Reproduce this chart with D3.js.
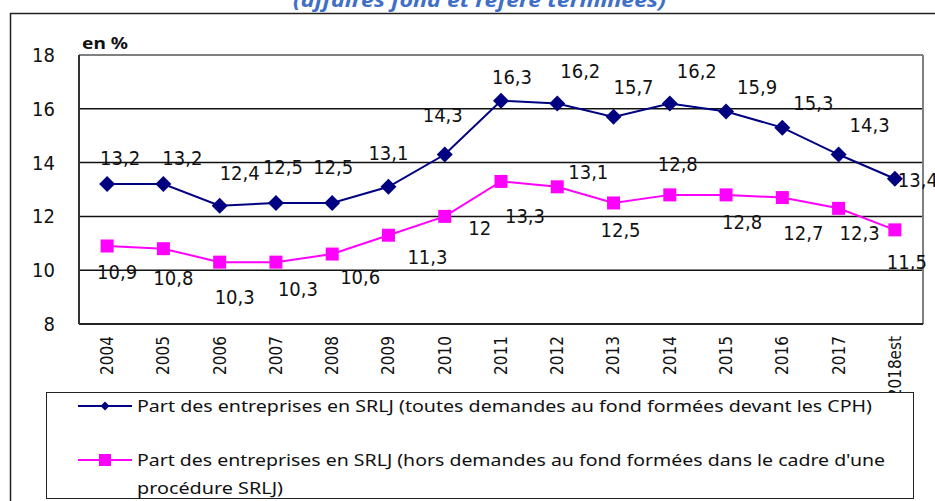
<!DOCTYPE html>
<html>
<head>
<meta charset="utf-8">
<script src="https://cdn.jsdelivr.net/npm/d3@7"></script>
<style>
  body { margin: 0; background: #fff; }
  svg { display: block; }
</style>
</head>
<body>
<div id="chart"></div>
<script>
// years on the x axis
var years = ["2004", "2005", "2006", "2007", "2008", "2009", "2010", "2011",
             "2012", "2013", "2014", "2015", "2016", "2017", "2018est"];

// Part des entreprises en SRLJ, toutes demandes (en %)
var toutes = [13.2, 13.2, 12.4, 12.5, 12.5, 13.1, 14.3, 16.3, 16.2, 15.7, 16.2, 15.9, 15.3, 14.3, 13.4];

// Part des entreprises en SRLJ, hors procédure SRLJ (en %)
var hors = [10.9, 10.8, 10.3, 10.3, 10.6, 11.3, 12, 13.3, 13.1, 12.5, 12.8, 12.8, 12.7, 12.3, 11.5];

var yTicks = [8, 10, 12, 14, 16, 18];

var legendLabels = [
  ["Part des entreprises en SRLJ (toutes demandes au fond formées devant les CPH)"],
  ["Part des entreprises en SRLJ (hors demandes au fond formées dans le cadre d'une", "procédure SRLJ)"]
];

// where excel left each data label, relative to its point
var blueLabelShift = [[13,-26],[19,-26],[20,-33],[7,-36],[1,-36],[0,-34],[-2,-40],[11,-24],
                      [23,-32],[20,-30],[27,-32],[31,-24],[31,-25],[31,-30],[23,1]];
var pinkLabelShift = [[10,26],[10,29],[15,35],[22,27],[28,23],[39,22],[35,12],[24,35],
                      [31,-15],[7,27],[8,-31],[16,27],[21,35],[21,25],[12,32]];

var W = 935, H = 501;
var plot = {left: 79, right: 923, top: 55, bottom: 324};
var navy = "#000080", magenta = "#ff00ff";
var numFont = "'DejaVu Sans Condensed', 'DejaVu Sans', sans-serif";
var legFont = "'Noto Sans', 'Liberation Sans', sans-serif";

var svg = d3.select("#chart").append("svg")
    .attr("width", W)
    .attr("height", H);

svg.append("rect").attr("width", W).attr("height", H).attr("fill", "#fff");

// title, mostly cut off at the top
svg.append("text")
    .attr("x", 293).attr("y", 7)
    .attr("textLength", 373).attr("lengthAdjust", "spacingAndGlyphs")
    .attr("font-family", legFont)
    .attr("font-size", 20).attr("font-weight", "bold").attr("font-style", "italic")
    .attr("fill", "#3f6fc6")
    .text("(affaires fond et référé terminées)");

// outer chart frame
svg.append("rect")
    .attr("x", 10.5).attr("y", 13.5)
    .attr("width", 960).attr("height", 520)
    .attr("fill", "none").attr("stroke", "#222").attr("stroke-width", 1.5);

var x = d3.scaleBand()
    .domain(years)
    .range([plot.left, plot.right]);

var y = d3.scaleLinear()
    .domain([8, 18])
    .range([plot.bottom, plot.top]);

function cx(i) { return x(years[i]) + x.bandwidth() / 2; }

// gridlines
svg.append("g")
  .selectAll("line")
  .data(yTicks.filter(function(d) { return d > 8 && d < 18; }))
  .enter().append("line")
    .attr("x1", plot.left).attr("x2", plot.right)
    .attr("y1", function(d) { return y(d); })
    .attr("y2", function(d) { return y(d); })
    .attr("stroke", "#111").attr("stroke-width", 1.5);

// plot frame
svg.append("line").attr("x1", plot.left).attr("x2", plot.right)
    .attr("y1", plot.top).attr("y2", plot.top)
    .attr("stroke", "#808080").attr("stroke-width", 2);
svg.append("line").attr("x1", plot.right).attr("x2", plot.right)
    .attr("y1", plot.top).attr("y2", plot.bottom)
    .attr("stroke", "#808080").attr("stroke-width", 2);
svg.append("line").attr("x1", plot.left).attr("x2", plot.right)
    .attr("y1", plot.bottom).attr("y2", plot.bottom)
    .attr("stroke", "#222").attr("stroke-width", 2);
svg.append("line").attr("x1", plot.left).attr("x2", plot.left)
    .attr("y1", plot.top).attr("y2", plot.bottom)
    .attr("stroke", "#333").attr("stroke-width", 2);

// y tick labels
svg.append("g")
  .selectAll("text")
  .data(yTicks)
  .enter().append("text")
    .attr("x", 55)
    .attr("y", function(d) { return y(d); })
    .attr("dy", "0.35em")
    .attr("text-anchor", "end")
    .attr("font-family", numFont).attr("font-size", 20)
    .attr("fill", "#111")
    .text(function(d) { return d; });

svg.append("text")
    .attr("x", 82).attr("y", 49)
    .attr("textLength", 46).attr("lengthAdjust", "spacingAndGlyphs")
    .attr("font-family", legFont).attr("font-size", 16).attr("font-weight", "bold")
    .attr("fill", "#111")
    .text("en %");

// x tick labels, rotated
svg.append("g")
  .selectAll("text")
  .data(years)
  .enter().append("text")
    .attr("transform", function(d) {
      return "translate(" + (x(d) + x.bandwidth() / 2) + ",336) rotate(-90)";
    })
    .attr("dy", "0.35em")
    .attr("text-anchor", "end")
    .attr("font-family", numFont).attr("font-size", 17)
    .attr("fill", "#111")
    .text(function(d) { return d; });

function drawSeries(values, color, shape, shifts) {
  var line = d3.line()
      .x(function(d, i) { return cx(i); })
      .y(function(d) { return y(d); });

  svg.append("path")
      .datum(values)
      .attr("d", line)
      .attr("fill", "none")
      .attr("stroke", color)
      .attr("stroke-width", 2);

  svg.append("g")
    .selectAll("path")
    .data(values)
    .enter().append("path")
      .attr("transform", function(d, i) { return "translate(" + cx(i) + "," + y(d) + ")"; })
      .attr("d", shape)
      .attr("fill", color);

  svg.append("g")
    .selectAll("text")
    .data(values)
    .enter().append("text")
      .attr("x", function(d, i) { return cx(i) + shifts[i][0]; })
      .attr("y", function(d, i) { return y(d) + shifts[i][1]; })
      .attr("dy", "0.35em")
      .attr("text-anchor", "middle")
      .attr("font-family", numFont).attr("font-size", 20)
      .attr("fill", "#111")
      .text(function(d) { return String(d).replace(".", ","); });
}

var diamond = "M0,-8L8,0L0,8L-8,0Z";
var square = "M-6.5,-6.5H6.5V6.5H-6.5Z";

drawSeries(hors, magenta, square, pinkLabelShift);
drawSeries(toutes, navy, diamond, blueLabelShift);

// legend box (covers the tail of the last year label)
var legend = svg.append("g");
legend.append("rect")
    .attr("x", 46.5).attr("y", 392.5)
    .attr("width", 867).attr("height", 106)
    .attr("fill", "#fff").attr("stroke", "#222").attr("stroke-width", 1);

var legendItems = [
  {color: navy, shape: "M0,-4.5L4.5,0L0,4.5L-4.5,0Z", y: 406, lines: legendLabels[0], widths: [735]},
  {color: magenta, shape: "M-6,-6H6V6H-6Z", y: 460, lines: legendLabels[1], widths: [748, 146]}
];

legendItems.forEach(function(item) {
  legend.append("line")
      .attr("x1", 78).attr("x2", 132)
      .attr("y1", item.y).attr("y2", item.y)
      .attr("stroke", item.color).attr("stroke-width", 2);
  legend.append("path")
      .attr("transform", "translate(105," + item.y + ")")
      .attr("d", item.shape)
      .attr("fill", item.color);
  item.lines.forEach(function(t, k) {
    legend.append("text")
        .attr("x", 137)
        .attr("y", item.y + k * 28)
        .attr("dy", "0.35em")
        .attr("textLength", item.widths[k]).attr("lengthAdjust", "spacingAndGlyphs")
        .attr("font-family", legFont).attr("font-size", 17)
        .attr("fill", "#111")
        .text(t);
  });
});
</script>
</body>
</html>
